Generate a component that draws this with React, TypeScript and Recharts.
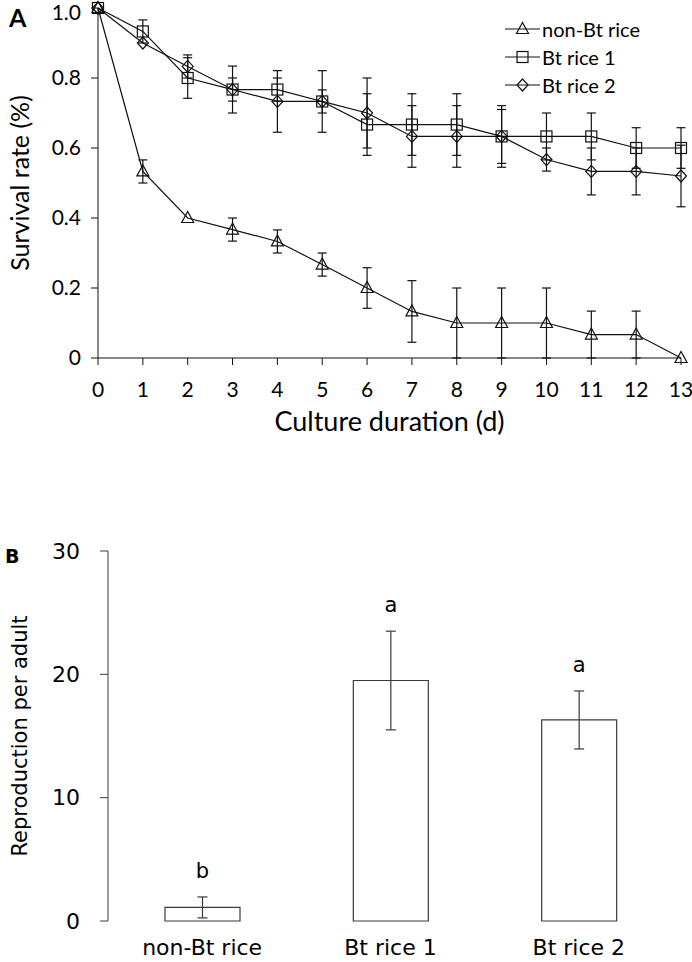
import {
  ComposedChart,
  Line,
  Bar,
  XAxis,
  YAxis,
  ErrorBar,
  Legend,
  LabelList,
} from "recharts";

const FONT_A = "Lato, 'Open Sans', sans-serif";
const FONT_B = "'DejaVu Sans', Verdana, sans-serif";

// Panel A: survival over culture days
const DAYS = [0, 1, 2, 3, 4, 5, 6, 7, 8, 9, 10, 11, 12, 13];
const NON_BT = [1, 0.533, 0.4, 0.367, 0.333, 0.267, 0.2, 0.133, 0.1, 0.1, 0.1, 0.067, 0.067, 0];
const NON_BT_ERR = [0, 0.033, 0, 0.033, 0.033, 0.033, 0.058, 0.088, 0.1, 0.1, 0.1, 0.067, 0.067, 0];
const BT1 = [1, 0.933, 0.8, 0.767, 0.767, 0.733, 0.667, 0.667, 0.667, 0.633, 0.633, 0.633, 0.6, 0.6];
const BT1_ERR = [0, 0.033, 0.058, 0.033, 0.033, 0.033, 0.088, 0.088, 0.088, 0.077, 0.067, 0.067, 0.058, 0.058];
const BT2 = [1, 0.9, 0.833, 0.767, 0.733, 0.733, 0.7, 0.633, 0.633, 0.633, 0.567, 0.533, 0.533, 0.52];
const BT2_ERR = [0, 0, 0.033, 0.067, 0.088, 0.088, 0.1, 0.088, 0.088, 0.088, 0.033, 0.067, 0.067, 0.088];
const Y_TICKS_A = [0, 0.2, 0.4, 0.6, 0.8, 1];

// Panel B: reproduction per adult
const GROUPS = ["non-Bt rice", "Bt rice 1", "Bt rice 2"];
const REPRO = [1.1, 19.5, 16.3];
const REPRO_ERR = [0.85, 4.0, 2.35];
const LETTERS = ["b", "a", "a"];
const Y_TICKS_B = [0, 10, 20, 30];

const SERIES = [
  { key: "nonBt", err: "nonBtErr", name: "non-Bt rice", shape: "triangle" },
  { key: "bt1", err: "bt1Err", name: "Bt rice 1", shape: "square" },
  { key: "bt2", err: "bt2Err", name: "Bt rice 2", shape: "diamond" },
];

const survival = DAYS.map((d, i) => ({
  day: d,
  nonBt: NON_BT[i],
  nonBtErr: NON_BT_ERR[i],
  bt1: BT1[i],
  bt1Err: BT1_ERR[i],
  bt2: BT2[i],
  bt2Err: BT2_ERR[i],
}));

const repro = GROUPS.map((g, i) => ({
  group: g,
  value: REPRO[i],
  err: REPRO_ERR[i],
  letter: LETTERS[i],
}));

const INK = "#111";
const INK_B = "#3a3a3a";

function Marker({ cx, cy, shape }: { cx?: number; cy?: number; shape: string }) {
  if (cx == null || cy == null) return null;
  const common = { fill: "none", stroke: INK, strokeWidth: 1.2 };
  if (shape === "triangle") {
    return (
      <polygon
        points={`${cx},${cy - 6.5} ${cx - 6},${cy + 4.5} ${cx + 6},${cy + 4.5}`}
        {...common}
      />
    );
  }
  if (shape === "square") {
    return <rect x={cx - 5.5} y={cy - 5.5} width={11} height={11} {...common} />;
  }
  return (
    <polygon
      points={`${cx},${cy - 6} ${cx + 5.5},${cy} ${cx},${cy + 6} ${cx - 5.5},${cy}`}
      {...common}
    />
  );
}

function LegendBox() {
  return (
    <div style={{ fontFamily: FONT_A, fontSize: 20, color: "#000" }}>
      {SERIES.map((s) => (
        <div key={s.key} style={{ display: "flex", alignItems: "center", height: 28 }}>
          <svg width={37} height={28}>
            <line x1={0} x2={35} y1={14} y2={14} stroke={INK} strokeWidth={1.2} />
            <Marker cx={17.5} cy={14} shape={s.shape} />
          </svg>
          <span>{s.name}</span>
        </div>
      ))}
    </div>
  );
}

function VerticalTitle({ text, x, size, viewBox }: { text: string; x: number; size: number; viewBox?: any }) {
  const cy = viewBox ? viewBox.y + viewBox.height / 2 : 0;
  return (
    <text
      x={x}
      y={cy}
      transform={`rotate(-90, ${x}, ${cy})`}
      textAnchor="middle"
      dominantBaseline="central"
      fontSize={size}
      fill="#000"
    >
      {text}
    </text>
  );
}

function SurvivalChart() {
  return (
    <ComposedChart
      width={692}
      height={440}
      data={survival}
      margin={{ top: 8, right: 11, bottom: 0, left: 0 }}
      style={{ fontFamily: FONT_A }}
    >
      <XAxis
        dataKey="day"
        type="number"
        domain={[0, 13]}
        ticks={DAYS}
        interval={0}
        height={82}
        tickSize={7}
        tickMargin={17}
        stroke={INK}
        tick={{ fill: "#000", fontSize: 21 }}
        label={{ value: "Culture duration (d)", position: "insideBottom", offset: 9, fontSize: 27, fill: "#000" }}
      />
      <XAxis xAxisId="top" orientation="top" type="number" domain={[0, 13]} height={0} tick={false} tickLine={false} stroke={INK} />
      <YAxis
        domain={[0, 1]}
        ticks={Y_TICKS_A}
        width={98}
        tickSize={7}
        tickMargin={10}
        stroke={INK}
        tick={{ fill: "#000", fontSize: 21 }}
        tickFormatter={(v: number) => (v === 0 ? "0" : v.toFixed(1))}
        label={(p: any) => <VerticalTitle text="Survival rate (%)" x={19} size={25} viewBox={p.viewBox} />}
      />
      <YAxis yAxisId="right" orientation="right" width={0} domain={[0, 1]} tick={false} tickLine={false} stroke={INK} />
      <Legend
        layout="vertical"
        align="center"
        verticalAlign="middle"
        wrapperStyle={{ top: 15, left: 505, width: 170 }}
        content={() => <LegendBox />}
      />
      {SERIES.map((s) => (
        <Line
          key={s.key}
          dataKey={s.key}
          name={s.name}
          stroke={INK}
          strokeWidth={1.2}
          isAnimationActive={false}
          dot={(p: any) => <Marker key={`${s.key}-${p.index}`} cx={p.cx} cy={p.cy} shape={s.shape} />}
          activeDot={false}
        >
          <ErrorBar dataKey={s.err} width={4.5} stroke={INK} strokeWidth={1.2} direction="y" />
        </Line>
      ))}
    </ComposedChart>
  );
}

function LetterLabel(props: any) {
  const { x, y, width, height, index, value } = props;
  const i = typeof index === "number" ? index : 0;
  const pxPerUnit = REPRO[i] ? height / REPRO[i] : 0;
  const topPx = y - REPRO_ERR[i] * pxPerUnit;
  return (
    <text x={x + width / 2} y={topPx - 26} textAnchor="middle" dominantBaseline="central" fontSize={21} fill="#000">
      {value}
    </text>
  );
}

function ReproChart() {
  return (
    <ComposedChart
      width={692}
      height={442}
      data={repro}
      margin={{ top: 31, right: 19, bottom: 0, left: 0 }}
      style={{ fontFamily: FONT_B }}
    >
      <XAxis type="number" domain={[0, 3]} ticks={[0, 1, 2, 3]} height={0} tickSize={8} tickFormatter={() => ""} stroke={INK_B} />
      <XAxis
        xAxisId="cat"
        dataKey="group"
        height={41}
        tickLine={false}
        axisLine={false}
        tickSize={8}
        tickMargin={10}
        tick={{ fill: "#000", fontSize: 22 }}
      />
      <XAxis xAxisId="top" orientation="top" type="number" domain={[0, 3]} height={0} tick={false} tickLine={false} stroke={INK_B} />
      <YAxis
        domain={[0, 30]}
        ticks={Y_TICKS_B}
        width={108}
        tickSize={8}
        tickMargin={20}
        stroke={INK_B}
        tick={{ fill: "#000", fontSize: 22 }}
        label={(p: any) => <VerticalTitle text="Reproduction per adult" x={20} size={21} viewBox={p.viewBox} />}
      />
      <YAxis yAxisId="right" orientation="right" width={0} domain={[0, 30]} tick={false} tickLine={false} stroke={INK_B} />
      <Bar xAxisId="cat" dataKey="value" fill="#fff" stroke={INK_B} strokeWidth={1.2} barSize={75} isAnimationActive={false}>
        <ErrorBar dataKey="err" width={5} stroke={INK_B} strokeWidth={1.2} direction="y" />
        <LabelList dataKey="letter" content={LetterLabel} />
      </Bar>
    </ComposedChart>
  );
}

export default function App() {
  return (
    <div
      style={{
        position: "absolute",
        left: 0,
        top: 0,
        width: 692,
        height: 962,
        background: "#fff",
        fontFamily: FONT_A,
        overflow: "hidden",
      }}
    >
      <div style={{ position: "absolute", left: 0, top: 0 }}>
        <SurvivalChart />
      </div>
      <div style={{ position: "absolute", left: 0, top: 520 }}>
        <ReproChart />
      </div>
      <div style={{ position: "absolute", left: 9, top: 2, fontWeight: 700, fontSize: 25 }}>A</div>
      <div style={{ position: "absolute", left: 5, top: 545, fontWeight: 700, fontSize: 19, fontFamily: FONT_B }}>B</div>
    </div>
  );
}
